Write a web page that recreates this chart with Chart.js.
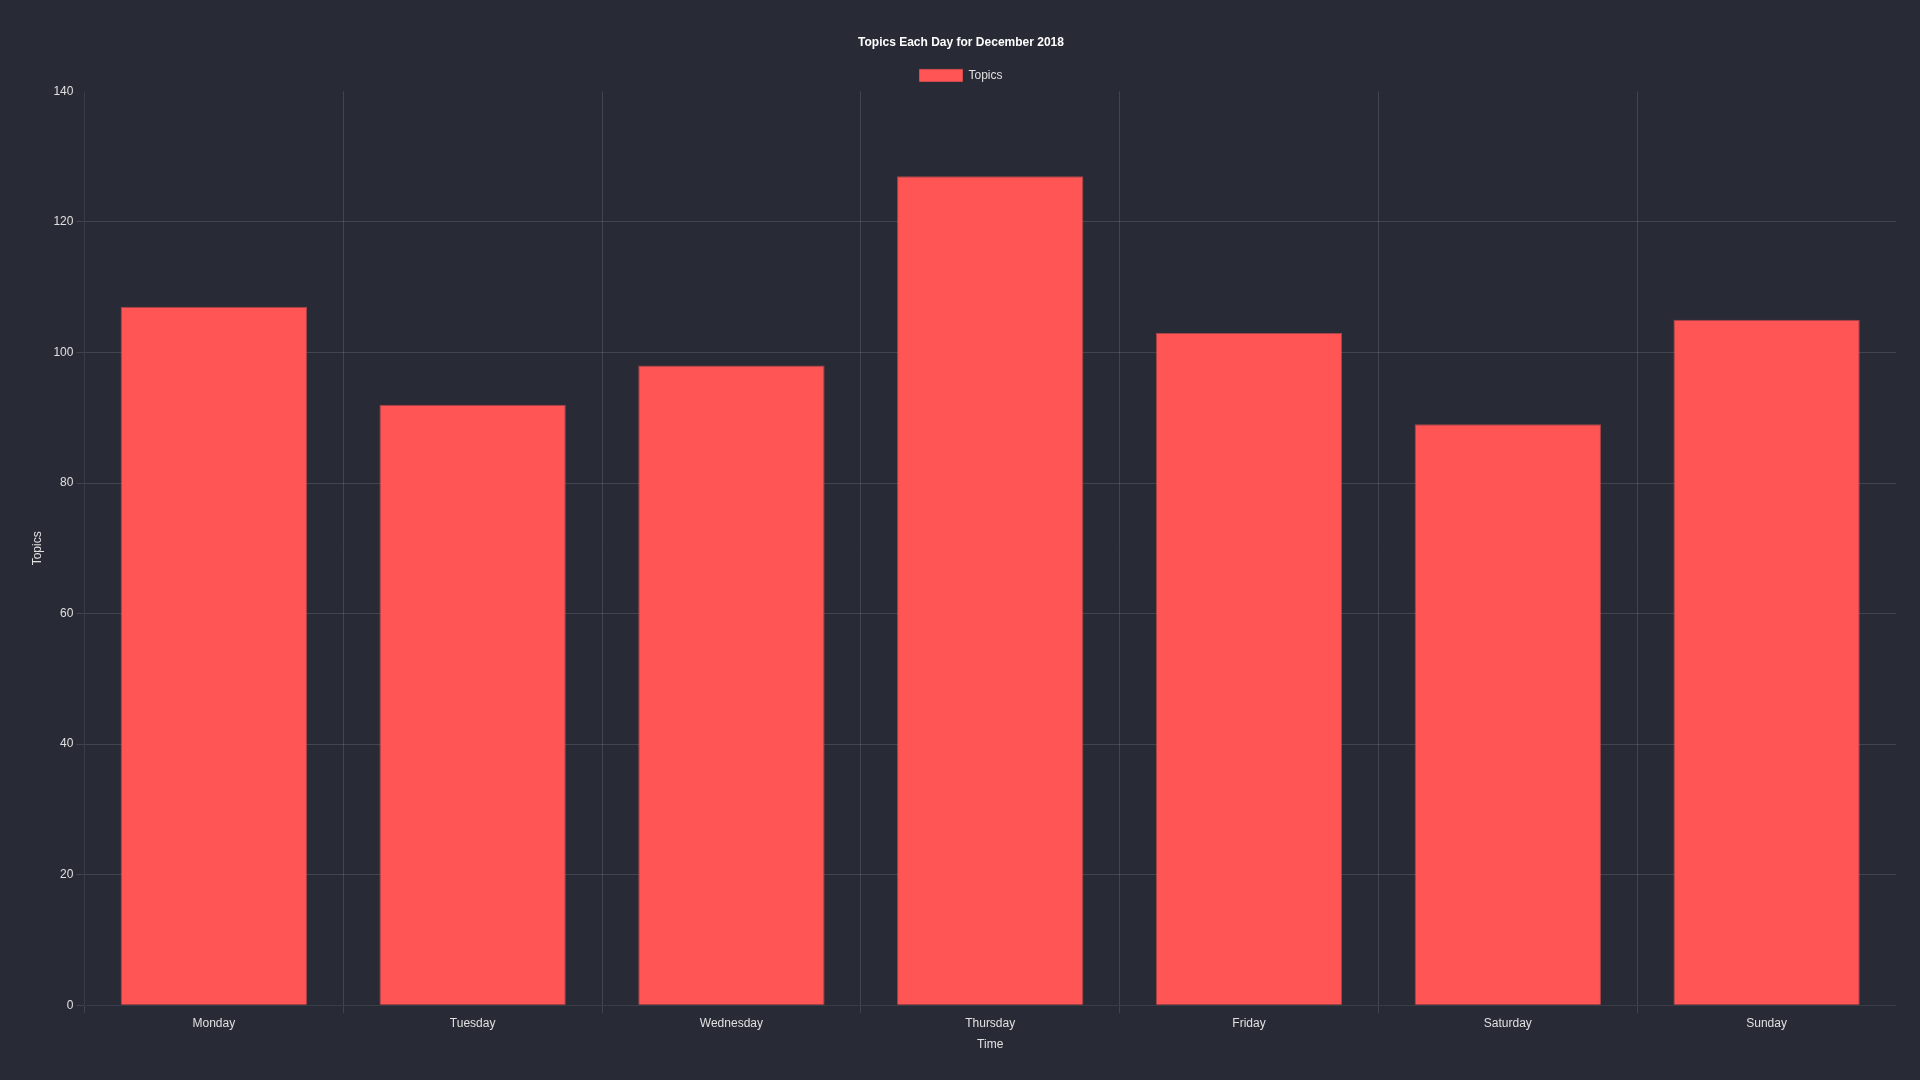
<!DOCTYPE html>
<html>
<head>
<meta charset="utf-8">
<script src="https://cdn.jsdelivr.net/npm/chart.js@4/dist/chart.umd.min.js"></script>
<style>
  html, body { margin: 0; padding: 0; background: #282b36; }
  #wrap { width: 1920px; height: 1080px; }
</style>
</head>
<body>
<div id="wrap"><canvas id="grafico"></canvas></div>
<script>
const dias = ['Monday', 'Tuesday', 'Wednesday', 'Thursday', 'Friday', 'Saturday', 'Sunday'];
const topicos = [107, 92, 98, 127, 103, 89, 105];
const yMax = 140;

Chart.defaults.font.family = '"Liberation Sans", Arial, Helvetica, sans-serif';
Chart.defaults.font.size = 12;
Chart.defaults.color = '#e0e0e0';

const corGrade = 'rgba(255, 255, 255, 0.12)';

new Chart(document.getElementById('grafico'), {
  type: 'bar',
  data: {
    labels: dias,
    datasets: [{
      label: 'Topics',
      data: topicos,
      backgroundColor: '#ff5555',
      borderColor: 'rgba(255, 85, 85, 0.6)',
      borderWidth: 1,
      categoryPercentage: 0.8,
      barPercentage: 0.9
    }]
  },
  options: {
    responsive: true,
    maintainAspectRatio: false,
    animation: false,
    layout: { padding: { top: 25, right: 24, bottom: 24, left: 26 } },
    plugins: {
      title: {
        display: true,
        text: 'Topics Each Day for December 2018',
        color: '#ffffff',
        font: { weight: 'bold', size: 12 },
        padding: { top: 10, bottom: 10 }
      },
      legend: {
        labels: { color: '#e0e0e0', boxWidth: 43 }
      }
    },
    scales: {
      x: {
        title: { display: true, text: 'Time', color: '#e0e0e0' },
        grid: {
          // sem a linha final da direita
          color: ctx => ctx.type === 'tick' ? corGrade : 'transparent'
        },
        ticks: { color: '#e0e0e0' }
      },
      y: {
        beginAtZero: true,
        min: 0,
        max: yMax,
        title: { display: true, text: 'Topics', color: '#e0e0e0', padding: { top: 4, bottom: 6 } },
        grid: {
          color: ctx => (ctx.tick && ctx.tick.value === yMax) ? 'transparent' : corGrade
        },
        ticks: { color: '#e0e0e0', stepSize: 20 }
      }
    }
  }
});
</script>
</body>
</html>
